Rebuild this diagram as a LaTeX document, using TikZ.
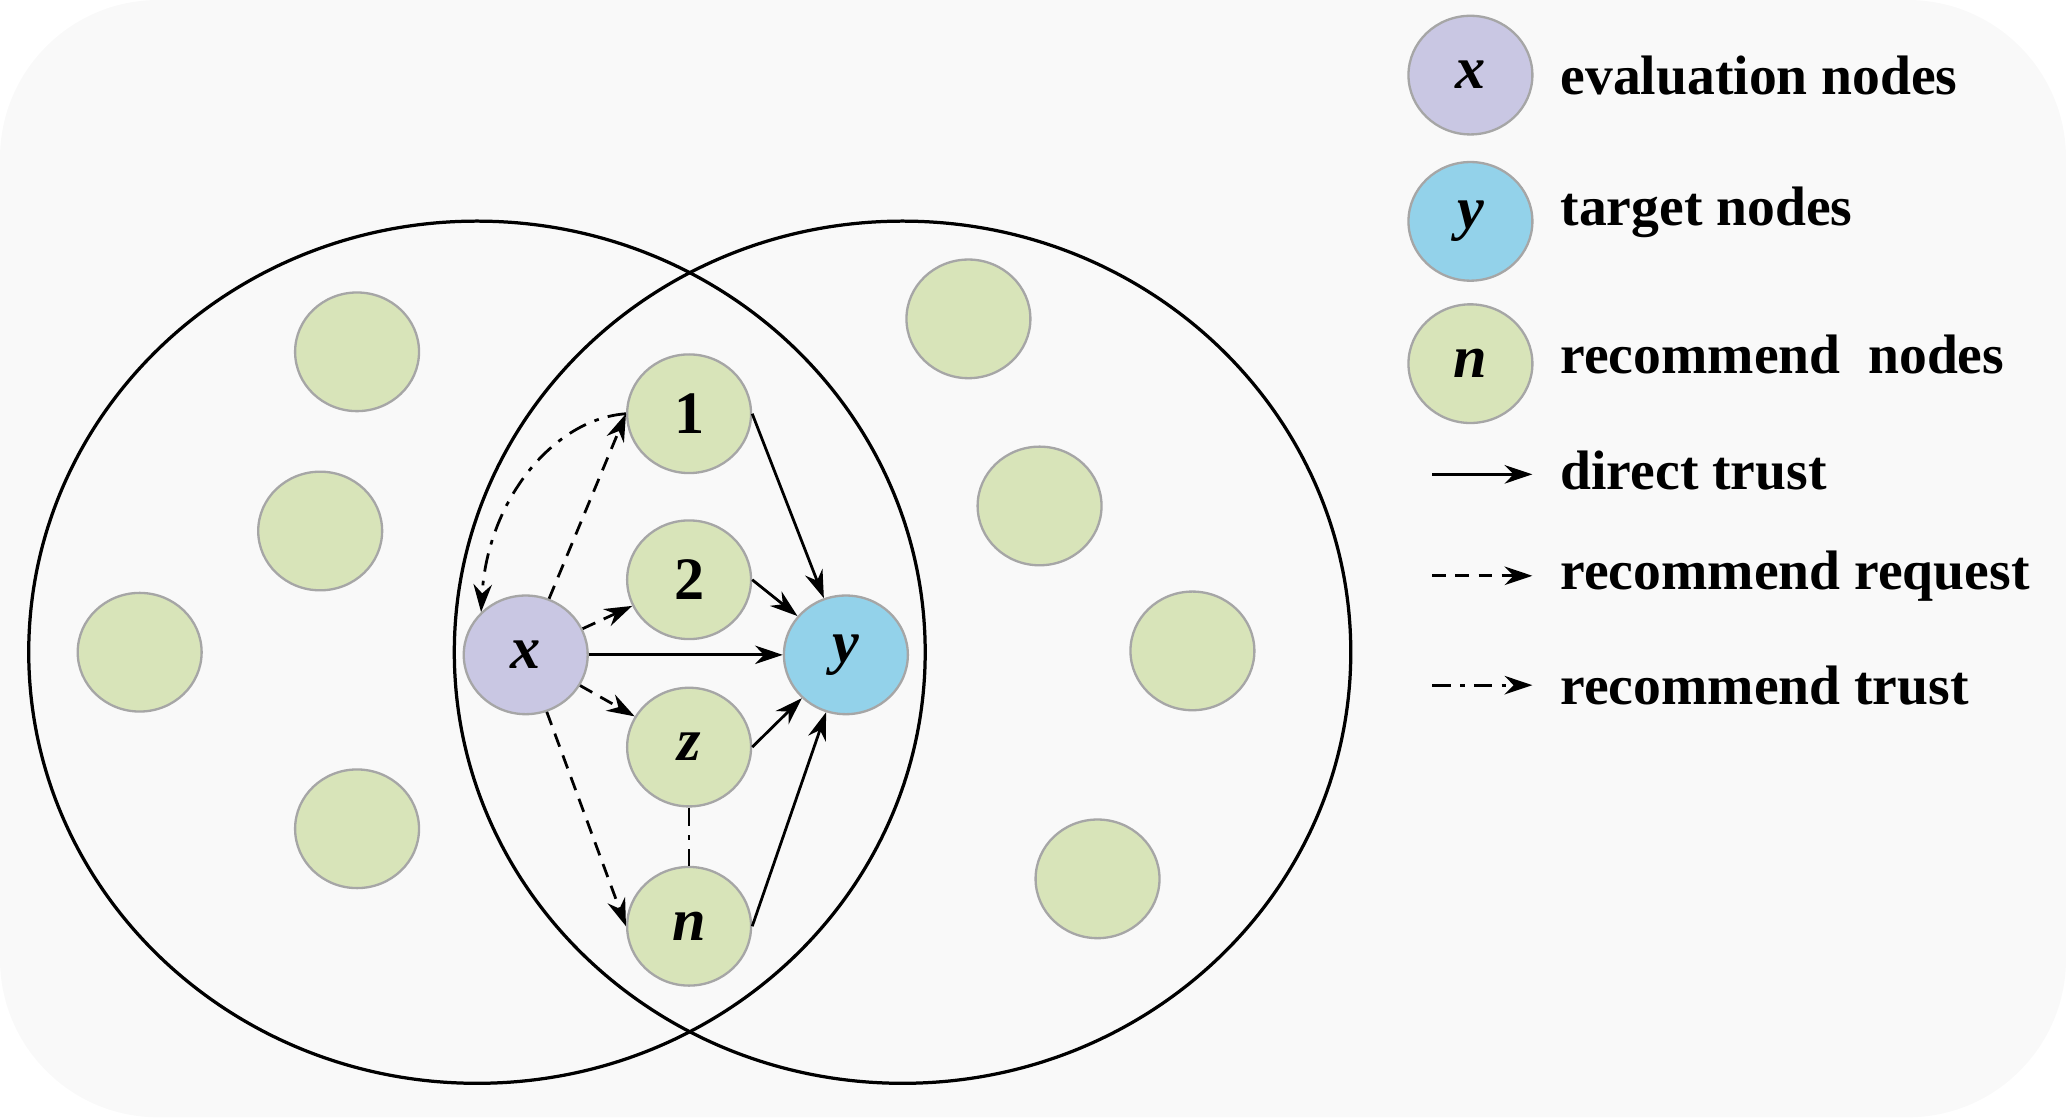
\documentclass[tikz,border=0pt]{standalone}
\usepackage{fontspec}
\setmainfont{Liberation Serif}
\usetikzlibrary{arrows.meta,shapes.geometric}
\definecolor{pur}{HTML}{C9C7E3}
\definecolor{blu}{HTML}{93D2EA}
\definecolor{grn}{HTML}{D8E4B9}
\definecolor{bg}{HTML}{F9F9F9}
\begin{document}
\begin{tikzpicture}[x=0.01cm,y=-0.01cm,
  nd/.style={ellipse,minimum width=0.94cm,minimum height=0.9cm,draw=black!35,line width=0.5pt,inner sep=0pt,font=\bfseries\itshape\fontsize{13}{13}\selectfont},
  gn/.style={nd,fill=grn},
  arr/.style={-{Stealth[length=6pt,width=4pt]},line width=0.6pt},
  dsh/.style={arr,densely dashed},
  dd/.style={arr,dash pattern=on 4pt off 2pt on 1pt off 2pt},
  lg/.style={anchor=west,font=\bfseries\fontsize{12}{12}\selectfont}]
\useasboundingbox (0,0) rectangle (1568,848);
\fill[bg,rounded corners=1.2cm] (0,0) rectangle (1568,848);
\draw[line width=0.7pt] (362,495) ellipse [x radius=3.4cm,y radius=3.27cm];
\draw[line width=0.7pt] (685,495) ellipse [x radius=3.4cm,y radius=3.27cm];
\foreach \p [count=\i] in {(271,267),(243,403),(106,495),(271,629),(735,242),(789,384),(905,494),(833,667)}
  \node[gn] (g\i) at \p {};
\node[gn] (n1) at (523,314) {\upshape 1};
\node[gn] (n2) at (523,440) {\upshape 2};
\node[gn] (nz) at (523,567) {z};
\node[gn] (nn) at (523,703) {n};
\node[nd,fill=pur] (x) at (399,497) {x};
\node[nd,fill=blu] (y) at (642,497) {y};
\draw[dsh] (x) -- (n1.west);
\draw[dsh] (x) -- (n2);
\draw[dsh] (x) -- (nz);
\draw[dsh] (x) -- (nn.west);
\draw[arr] (x) -- (y);
\foreach \a in {n1,n2,nz,nn} \draw[arr] (\a.east) -- (y);
\draw[dd] (n1.west) .. controls (420,318) and (370,380) .. (x.north west);
\draw[line width=0.6pt,dash pattern=on 4pt off 2pt on 1pt off 2pt] (nz) -- (nn);
\node[nd,fill=pur] (lx) at (1116,57) {x};
\node[nd,fill=blu] (ly) at (1116,168) {y};
\node[gn] (ln) at (1116,276) {n};
\node[lg] (t1) at (1172,57) {evaluation nodes};
\node[lg] (t2) at (1172,161) {target nodes};
\node[lg] (t3) at (1172,269) {recommend\ \ nodes};
\node[lg] (t4) at (1172,357) {direct trust};
\node[lg] (t5) at (1172,437) {recommend request};
\node[lg] (t6) at (1172,520) {recommend trust};
\coordinate (a1) at (1087,360); \coordinate (b1) at (1163,360);
\coordinate (a2) at (1087,437); \coordinate (b2) at (1163,437);
\coordinate (a3) at (1087,520); \coordinate (b3) at (1163,520);
\draw[arr] (a1) -- (b1);
\draw[dsh] (a2) -- (b2);
\draw[dd] (a3) -- (b3);
\end{tikzpicture}
\end{document}
